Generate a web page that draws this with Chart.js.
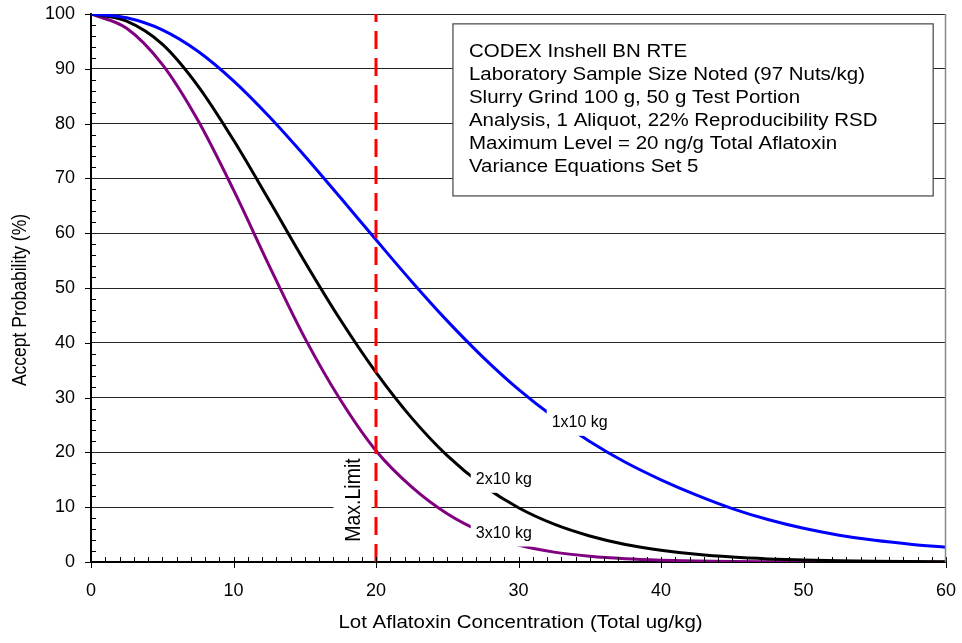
<!DOCTYPE html>
<html>
<head>
<meta charset="utf-8">
<title>Operating characteristic curves</title>
<script src="https://cdn.jsdelivr.net/npm/chart.js@4.4.0/dist/chart.umd.min.js"></script>
<style>
  html, body { margin: 0; padding: 0; background: #fff; }
  #wrap { width: 962px; height: 643px; position: relative; }
</style>
</head>
<body>
<div id="wrap"><canvas id="oc"></canvas></div>
<script>
// Lot aflatoxin concentration (total ug/kg) where the curves were read
const lotConc = [0, 2.5, 5, 7.5, 10, 12.5, 15, 17.5, 20, 22.5, 25, 27.5, 30,
                 32.5, 35, 37.5, 40, 42.5, 45, 47.5, 50, 52.5, 55, 57.5, 60];

// Accept probability (%) for each sampling plan
const accept1x10 = [100, 99.3, 97.1, 93.2, 87.8, 81.3, 74.1, 66.5, 58.8, 51.2, 44.0, 37.4, 31.5,
                    26.4, 22.0, 18.2, 15.0, 12.2, 9.75, 7.75, 6.15, 4.9, 3.95, 3.25, 2.7];
const accept2x10 = [100, 98.7, 94.5, 86.9, 77.0, 66.0, 54.8, 44.2, 34.6, 26.3, 19.4, 14.0, 9.9,
                    6.9, 4.75, 3.2, 2.15, 1.4, 0.9, 0.57, 0.36, 0.22, 0.14, 0.09, 0.05];
const accept3x10 = [100, 97.4, 90.8, 80.6, 67.9, 54.1, 40.9, 29.6, 20.3, 13.7, 8.8, 5.4, 3.1,
                    1.8, 1.05, 0.6, 0.34, 0.19, 0.1, 0.055, 0.03, 0.016, 0.009, 0.005, 0.003];

const planNames = ['1x10 kg', '2x10 kg', '3x10 kg'];
const maxLimit = 20;
const maxLimitLabel = 'Max.Limit';

const infoLines = [
  'CODEX Inshell BN RTE',
  'Laboratory Sample Size Noted (97 Nuts/kg)',
  'Slurry Grind 100 g, 50 g Test Portion',
  'Analysis, 1 Aliquot, 22% Reproducibility RSD',
  'Maximum Level = 20 ng/g Total Aflatoxin',
  'Variance Equations Set 5'
];
const xTitle = 'Lot Aflatoxin Concentration (Total ug/kg)';
const yTitle = 'Accept Probability (%)';

const FONT = "'Liberation Sans', Arial, Helvetica, sans-serif";
const STRETCH = 1.17; // the reference text is drawn a little wide

const toPoints = ys => lotConc.map((x, i) => ({ x: x, y: ys[i] }));

// draw text scaled horizontally, centred vertically on y
function wideText(ctx, text, x, y, size, align, angle) {
  ctx.save();
  ctx.font = size + 'px ' + FONT;
  ctx.fillStyle = '#000';
  ctx.translate(x, y);
  ctx.scale(STRETCH, 1);
  if (angle) ctx.rotate(angle);
  ctx.textAlign = align;
  ctx.textBaseline = 'middle';
  ctx.fillText(text, 0, 0);
  ctx.restore();
}

// annotations: curve labels, max limit label, info box, ticks, titles
const annotations = {
  id: 'annotations',
  afterDatasetsDraw(chart) {
    const ctx = chart.ctx;
    const xs = chart.scales.x, ys = chart.scales.y;

    // labels sitting on the curves (white boxes hide the line)
    const spots = [[32.33, 25.4], [27.0, 15.0], [27.0, 5.2]];
    ctx.save();
    ctx.font = '16px ' + FONT;
    ctx.textBaseline = 'middle';
    ctx.textAlign = 'left';
    planNames.forEach((name, i) => {
      const px = xs.getPixelForValue(spots[i][0]);
      const py = ys.getPixelForValue(spots[i][1]);
      const w = ctx.measureText(name).width;
      ctx.fillStyle = '#fff';
      ctx.fillRect(px - 5, py - 13, w + 10, 26);
      ctx.fillStyle = '#000';
      ctx.fillText(name, px, py);
    });
    ctx.restore();

    // Max.Limit, vertical
    const mx = xs.getPixelForValue(18.42);
    const my = ys.getPixelForValue(11.3);
    ctx.save();
    ctx.fillStyle = '#fff';
    ctx.fillRect(mx - 20, my - 46, 38, 92);
    ctx.restore();
    wideText(ctx, maxLimitLabel, mx, my, 19.5, 'center', -Math.PI / 2);

    // info box
    const bl = xs.getPixelForValue(25.4), br = xs.getPixelForValue(59.1);
    const bt = ys.getPixelForValue(98.2), bb = ys.getPixelForValue(66.8);
    ctx.save();
    ctx.fillStyle = '#fff';
    ctx.fillRect(bl, bt, br - bl, bb - bt);
    ctx.strokeStyle = '#444';
    ctx.lineWidth = 1.2;
    ctx.strokeRect(bl, bt, br - bl, bb - bt);
    ctx.restore();
    infoLines.forEach((line, i) => {
      wideText(ctx, line, bl + 16, bt + 28 + i * 23, 17.5, 'left');
    });
  },
  afterDraw(chart) {
    const ctx = chart.ctx;
    const area = chart.chartArea;
    const xs = chart.scales.x, ys = chart.scales.y;
    ctx.save();
    ctx.strokeStyle = '#000';
    ctx.lineWidth = 1;
    ctx.beginPath();
    // x minor ticks every 1, major every 10 crossing the axis
    for (let v = xs.min; v <= xs.max; v += 1) {
      const px = Math.round(xs.getPixelForValue(v)) + 0.5;
      if (v % 10 === 0) {
        ctx.moveTo(px, area.bottom - 5);
        ctx.lineTo(px, area.bottom + 6);
      } else {
        ctx.moveTo(px, area.bottom - 5);
        ctx.lineTo(px, area.bottom);
      }
    }
    // y minor ticks every 2 inside, major every 10 outside
    for (let v = ys.min; v <= ys.max; v += 2) {
      const py = Math.round(ys.getPixelForValue(v)) + 0.5;
      if (v % 10 === 0) {
        ctx.moveTo(area.left - 6, py);
        ctx.lineTo(area.left, py);
      } else {
        ctx.moveTo(area.left, py);
        ctx.lineTo(area.left + 5, py);
      }
    }
    ctx.stroke();
    // right border of the plot
    ctx.strokeStyle = '#888';
    ctx.lineWidth = 1.5;
    ctx.beginPath();
    ctx.moveTo(Math.round(area.right) - 0.5, area.top);
    ctx.lineTo(Math.round(area.right) - 0.5, area.bottom);
    ctx.stroke();
    ctx.restore();

    // axis titles
    wideText(ctx, xTitle, (area.left + area.right) / 2 + 2, 623, 17.5, 'center');
    wideText(ctx, yTitle, 20, (area.top + area.bottom) / 2 + 12, 17.5, 'center', -Math.PI / 2);
  }
};

new Chart(document.getElementById('oc'), {
  type: 'line',
  data: {
    datasets: [
      {
        label: 'Max limit',
        data: [{ x: maxLimit, y: 0 }, { x: maxLimit, y: 100 }],
        borderColor: '#ff0000',
        borderWidth: 3,
        borderDash: [18, 9],
        pointRadius: 0,
        tension: 0,
        order: 0
      },
      {
        label: planNames[0],
        data: toPoints(accept1x10),
        borderColor: '#0000ff',
        borderWidth: 3,
        pointRadius: 0,
        cubicInterpolationMode: 'monotone',
        order: 1
      },
      {
        label: planNames[1],
        data: toPoints(accept2x10),
        borderColor: '#000000',
        borderWidth: 3,
        pointRadius: 0,
        cubicInterpolationMode: 'monotone',
        order: 2
      },
      {
        label: planNames[2],
        data: toPoints(accept3x10),
        borderColor: '#800080',
        borderWidth: 3,
        pointRadius: 0,
        cubicInterpolationMode: 'monotone',
        order: 3
      }
    ]
  },
  options: {
    responsive: true,
    maintainAspectRatio: false,
    animation: false,
    layout: { padding: { top: 14, right: 16, left: 0, bottom: 0 } },
    plugins: {
      legend: { display: false },
      tooltip: { enabled: false }
    },
    scales: {
      x: {
        type: 'linear',
        min: 0,
        max: 60,
        ticks: {
          stepSize: 10,
          padding: 0,
          color: '#000',
          font: { family: FONT, size: 18 }
        },
        // invisible tick marks just hold the labels away from the axis
        grid: { display: true, drawOnChartArea: false, drawTicks: true,
                tickLength: 18, tickColor: 'rgba(0,0,0,0)' },
        border: { display: true, color: '#000', width: 2 },
        afterFit(scale) { scale.height = 81; }
      },
      y: {
        min: 0,
        max: 100,
        ticks: {
          stepSize: 10,
          padding: 0,
          color: '#000',
          font: { family: FONT, size: 18 }
        },
        grid: { color: '#222', lineWidth: 1, drawTicks: true,
                tickLength: 16, tickColor: 'rgba(0,0,0,0)' },
        border: { display: true, color: '#000', width: 2 },
        afterFit(scale) { scale.width = 91; }
      }
    }
  },
  plugins: [annotations]
});
</script>
</body>
</html>
